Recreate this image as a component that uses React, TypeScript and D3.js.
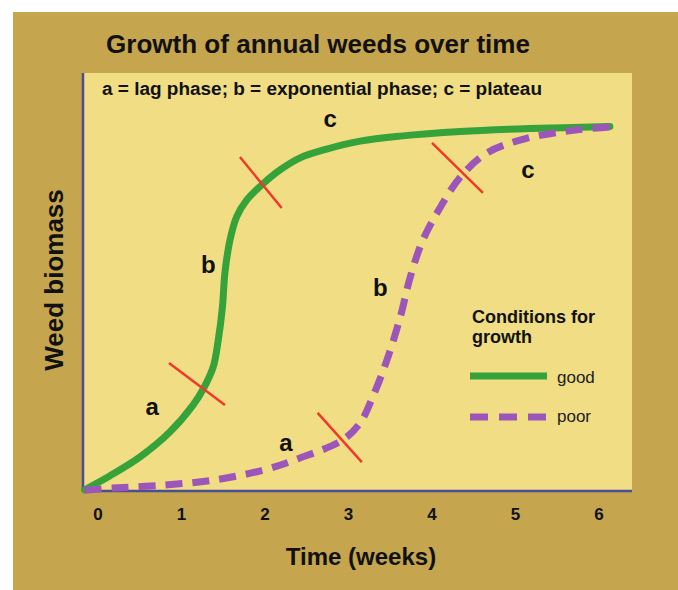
import React from "react";
import * as d3 from "d3";

// ---- data (weeks, relative biomass 0-100) ----
const goodWeeks = [-0.16, 0.14, 0.5, 0.86, 1.14, 1.26, 1.38, 1.44, 1.49, 1.52, 1.58, 1.66, 1.78, 1.96, 2.18, 2.42, 2.74, 3.14, 3.62, 4.34, 5.17, 6.13];
const goodBiomass = [0.3, 3.6, 8.1, 14.1, 20.6, 24.4, 29.7, 36.1, 44.0, 52.2, 60.0, 65.6, 69.6, 73.2, 76.8, 79.7, 81.8, 83.7, 84.9, 86.0, 86.7, 87.2];
const poorWeeks = [-0.16, 0.18, 0.78, 1.38, 1.98, 2.42, 2.93, 3.14, 3.29, 3.46, 3.62, 3.74, 3.89, 4.1, 4.34, 4.66, 5.14, 5.74, 6.13];
const poorBiomass = [0.2, 0.7, 1.4, 2.6, 5.0, 7.9, 12.2, 16.3, 22.5, 31.3, 41.6, 51.2, 60.0, 67.9, 75.1, 80.9, 84.4, 86.4, 87.1];

const xTicks = [0, 1, 2, 3, 4, 5, 6];

// phase boundary marks: [x1, y1, x2, y2]
const phaseMarks = [
  [0.85, 30.6, 1.52, 20.6],
  [1.7, 79.9, 2.2, 67.7],
  [2.63, 18.7, 3.16, 6.9],
  [4.0, 83.3, 4.61, 71.3],
];
const phaseLabels = ["a", "b", "c", "a", "b", "c"];
const phaseLabelWeeks = [0.65, 1.32, 2.78, 2.25, 3.38, 5.15];
const phaseLabelBiomass = [20.1, 54.1, 89.2, 11.7, 48.6, 76.8];

const titleText = "Growth of annual weeds over time";
const subtitleText = "a = lag phase; b = exponential phase; c = plateau";
const xLabel = "Time (weeks)";
const yLabel = "Weed biomass";
const legendTitle = ["Conditions for", "growth"];
const seriesNames = ["good", "poor"];

const W = 678;
const H = 590;
const FONT = "'Liberation Sans', Arial, Helvetica, sans-serif";
const GOLD = "#C5A54D";
const PLOT = "#F0DD84";
const GREEN = "#35A23A";
const PURPLE = "#9C55B9";
const RED = "#F0392A";
const AXIS = "#4A4E94";

export default function App() {
  const plotL = 83, plotR = 632, plotT = 73, plotB = 491;
  const x = d3.scaleLinear().domain([0, 6]).range([98, 599]);
  const y = d3.scaleLinear().domain([0, 100]).range([plotB, plotB - 418]);

  const line = d3
    .line<[number, number]>()
    .x((d) => x(d[0]))
    .y((d) => y(d[1]))
    .curve(d3.curveCatmullRom.alpha(0.5));

  const goodPts = goodWeeks.map((w, i) => [w, goodBiomass[i]] as [number, number]);
  const poorPts = poorWeeks.map((w, i) => [w, poorBiomass[i]] as [number, number]);

  return (
    <svg
      width={W}
      height={H}
      style={{ position: "absolute", left: 0, top: 0, background: "#fff" }}
      fontFamily={FONT}
    >
      <rect x={13} y={12} width={W - 13} height={H - 12} fill={GOLD} />
      <rect x={plotL} y={plotT} width={plotR - plotL} height={plotB - plotT} fill={PLOT} />

      <text x={318} y={53} textAnchor="middle" fontSize={25} fontWeight="bold" fill="#111" textLength={424} lengthAdjust="spacingAndGlyphs">
        {titleText}
      </text>
      <text x={102} y={95} fontSize={18} fontWeight="bold" fill="#111" textLength={440} lengthAdjust="spacingAndGlyphs">
        {subtitleText}
      </text>

      {/* axes */}
      <line x1={plotL} y1={plotT} x2={plotL} y2={plotB} stroke={AXIS} strokeWidth={2.5} />
      <line x1={plotL} y1={plotB} x2={plotR} y2={plotB} stroke={AXIS} strokeWidth={2.5} />

      {xTicks.map((t) => (
        <text key={t} x={x(t)} y={520} textAnchor="middle" fontSize={17} fontWeight="bold" fill="#111">
          {t}
        </text>
      ))}
      <text x={361} y={565} textAnchor="middle" fontSize={24} fontWeight="bold" fill="#111">
        {xLabel}
      </text>
      <text transform="translate(63,280) rotate(-90)" textAnchor="middle" fontSize={26} fontWeight="bold" fill="#111">
        {yLabel}
      </text>

      {/* curves */}
      <path d={line(goodPts) || ""} fill="none" stroke={GREEN} strokeWidth={7} strokeLinecap="round" />
      <path d={line(poorPts) || ""} fill="none" stroke={PURPLE} strokeWidth={7} strokeDasharray="17 10" />

      {phaseMarks.map((m, i) => (
        <line key={i} x1={x(m[0])} y1={y(m[1])} x2={x(m[2])} y2={y(m[3])} stroke={RED} strokeWidth={2.5} />
      ))}

      {phaseLabels.map((l, i) => (
        <text key={i} x={x(phaseLabelWeeks[i])} y={y(phaseLabelBiomass[i])} textAnchor="middle" dominantBaseline="central" fontSize={24} fontWeight="bold" fill="#111">
          {l}
        </text>
      ))}

      {/* legend */}
      <text x={472} y={323} fontSize={18} fontWeight="bold" fill="#111">{legendTitle[0]}</text>
      <text x={472} y={343} fontSize={18} fontWeight="bold" fill="#111">{legendTitle[1]}</text>
      <line x1={470} y1={376} x2={547} y2={376} stroke={GREEN} strokeWidth={7} />
      <text x={557} y={383} fontSize={17} fill="#222">{seriesNames[0]}</text>
      <line x1={470} y1={417} x2={547} y2={417} stroke={PURPLE} strokeWidth={7} strokeDasharray="18 11" />
      <text x={557} y={422} fontSize={17} fill="#222">{seriesNames[1]}</text>
    </svg>
  );
}
